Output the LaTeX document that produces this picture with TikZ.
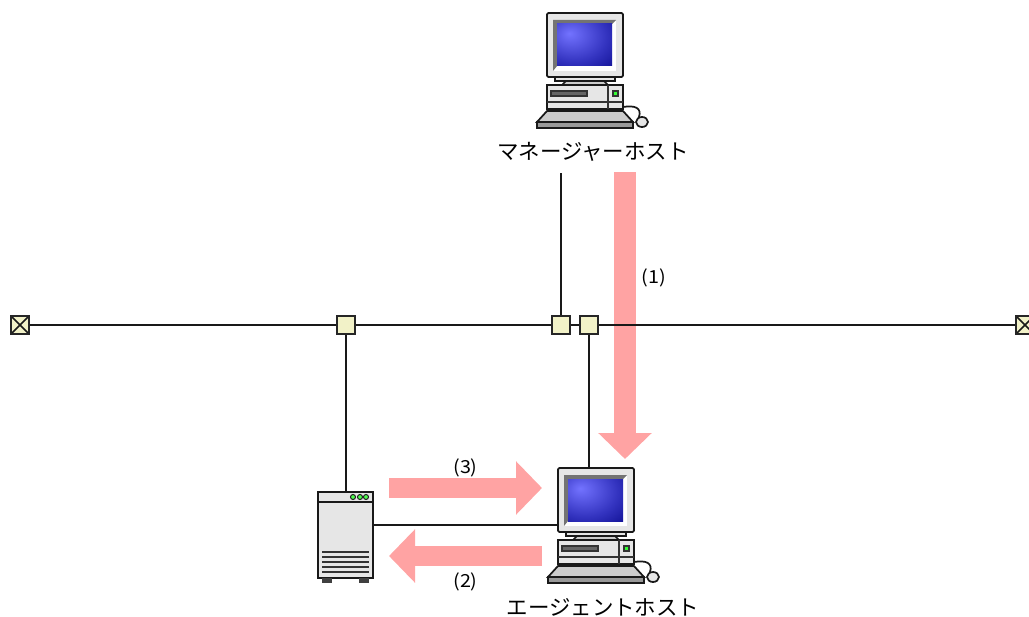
\documentclass[tikz,border=0pt]{standalone}
\usepackage{fontspec}
\setmainfont{Noto Sans CJK JP}
\usetikzlibrary{arrows.meta}
%% Blue glow on the monitor screen, brightest towards the top left.
\pgfdeclareradialshading{screenGlow}{\pgfpoint{-14bp}{14bp}}{%%
  rgb(0bp)=(0.45,0.45,1);%%
  rgb(30bp)=(0.2,0.2,0.75);%%
  rgb(58bp)=(0,0,0.5);%%
  rgb(100bp)=(0,0,0.5)}
\definecolor{bodyGrey}{HTML}{E6E6E6}
\definecolor{keyGrey}{HTML}{CCCCCC}
\definecolor{junctionYellow}{HTML}{F2F2C8}
\definecolor{arrowPink}{HTML}{FFA3A3}
%% One desktop computer.  #1 is the shift, #2 names its monitor.
\newcommand{\deskHost}[2]{%%
  \begin{scope}[shift={#1}]
    %% Stand, drawn before the monitor and the base.
    \draw[partStyle,fill=bodyGrey] (555,77) rectangle (615,81);
    \draw[partStyle,fill=keyGrey] (566,81) -- (604,81) -- (608,85) -- (562,85) -- cycle;
    %% Monitor with its bezel and screen.
    \node[partStyle,fill=bodyGrey,rounded corners=1pt,minimum width=57pt,minimum height=48pt,
      inner sep=0pt] (#2) at (585,45) {};
    \fill[white] (553,20) rectangle (616,71);
    \fill[black!55] (553,20) -- (616,20) -- (612,24) -- (557,24) -- (557,66) -- (553,71) -- cycle;
    \shade[shading=screenGlow] (557,24) rectangle (612,66);
    %% Base unit.
    \draw[partStyle,fill=bodyGrey] (547,85) rectangle (623,109);
    \draw[thinStyle] (547,102) -- (623,102) (608,85) -- (608,109);
    \draw[thinStyle,fill=black!60] (551,91) rectangle (587,96);
    \draw[thinStyle,fill=green!80!white] (613,91) rectangle (618,96);
    %% Keyboard.
    \draw[partStyle,fill=keyGrey] (547,111) -- (623,111) -- (633,122) -- (537,122) -- cycle;
    \draw[partStyle,fill=black!40] (537,122) rectangle (633,128);
    %% Mouse and its cable.
    \draw[partStyle] (623,107) .. controls (635,105) and (642,108) .. (639,117);
    \draw[partStyle,fill=bodyGrey] (642,122) ellipse (6 and 5);
  \end{scope}%%
}
\begin{document}
\begin{tikzpicture}[%%
  x=0.75pt,y=-0.75pt,%%
  lineStyle/.style={line width=1.2pt,black!90},%%
  partStyle/.style={line width=1.3pt,draw=black!90},%%
  thinStyle/.style={line width=0.9pt,draw=black!80},%%
  junctionStyle/.style={draw=black!85,line width=1.4pt,fill=junctionYellow,%%
    minimum size=14pt,inner sep=0pt},%%
  endStyle/.style={junctionStyle,path picture={%%
    \draw[line width=1.1pt,black!90] (path picture bounding box.north west) --
    (path picture bounding box.south east);
    \draw[line width=1.1pt,black!90] (path picture bounding box.north east) --
    (path picture bounding box.south west);}},%%
  blockArrow/.style={draw=arrowPink,line width=15.5pt,%%
    -{Triangle[length=19.5pt,width=39pt,fill=arrowPink]}},%%
  hostLabel/.style={font=\fontsize{16.1pt}{18pt}\selectfont,inner sep=0pt},%%
  stepLabel/.style={font=\fontsize{13.5pt}{15pt}\selectfont,inner sep=0pt,xscale=1.1}%%
]
%%
\clip (0,0) rectangle (1029,617);
%%
%% The three pink arrows, under the network line.
\coordinate (oneStart) at (625,172);
\coordinate (oneEnd) at (625,459);
\coordinate (twoStart) at (542,556);
\coordinate (twoEnd) at (389,556);
\coordinate (threeStart) at (389,488);
\coordinate (threeEnd) at (542,488);
\draw[blockArrow,line width=16.5pt] (oneStart) -- (oneEnd);
\draw[blockArrow] (twoStart) -- (twoEnd);
\draw[blockArrow] (threeStart) -- (threeEnd);
%%
%% The two computers and the server.
\deskHost{(0,0)}{managerMonitor}
\deskHost{(11,455)}{agentMonitor}
\node[partStyle,fill=bodyGrey,minimum width=41pt,minimum height=64.5pt,inner sep=0pt]
  (server) at (345.5,535) {};
\draw[partStyle] (318,502) -- (373,502);
\foreach \ledx in {353,360,366}
  \draw[line width=0.8pt,black!85,fill=green!70!white] (\ledx,497) circle (2.5);
\foreach \venty in {552,557,562,567,572}
  \draw[thinStyle] (322,\venty) -- (369,\venty);
\foreach \footx in {322,359}
  \fill[black!75] (\footx,578) rectangle (\footx+10,583);
%%
%% The network line and where things join it.
\node[endStyle] (leftEnd) at (20,325) {};
\node[endStyle] (rightEnd) at (1025,325) {};
\node[junctionStyle] (junctionServer) at (346,325) {};
\node[junctionStyle] (junctionManager) at (561,325) {};
\node[junctionStyle] (junctionAgent) at (589,325) {};
\draw[lineStyle] (leftEnd) -- (junctionServer);
\draw[lineStyle] (junctionServer) -- (junctionManager);
\draw[lineStyle] (junctionManager) -- (junctionAgent);
\draw[lineStyle] (junctionAgent) -- (rightEnd);
%%
%% Labels.
\node[hostLabel] (managerLabel) at (593,152) {マネージャーホスト};
\node[hostLabel] (agentLabel) at (603,607) {エージェントホスト};
\node[stepLabel] (stepOne) at (654,278) {(1)};
\node[stepLabel] (stepTwo) at (465.5,582) {(2)};
\node[stepLabel] (stepThree) at (465.5,468) {(3)};
%%
%% Connectors.
\coordinate (managerDrop) at (561,173);
\coordinate (serverLink) at (373,525);
\draw[lineStyle] (managerDrop) -- (junctionManager);
\draw[lineStyle] (junctionServer) -- (junctionServer |- server.north);
\draw[lineStyle] (junctionAgent) -- (junctionAgent |- agentMonitor.north);
\draw[lineStyle] (serverLink) -- (serverLink -| agentMonitor.west);
\end{tikzpicture}
\end{document}
